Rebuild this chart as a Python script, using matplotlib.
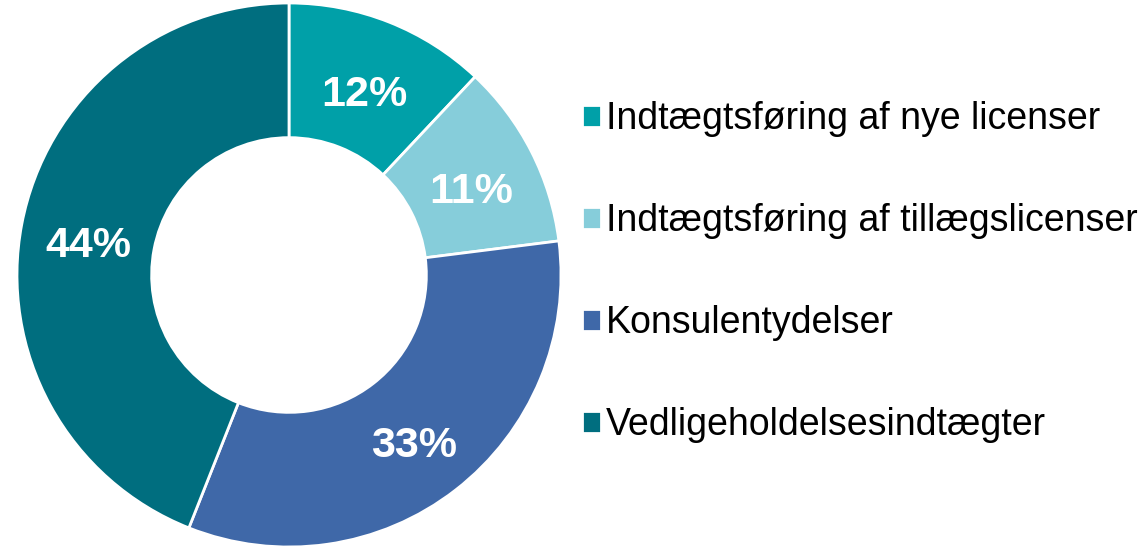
import matplotlib.pyplot as plt

# data
labels = ["Indtægtsføring af nye licenser",
          "Indtægtsføring af tillægslicenser",
          "Konsulentydelser",
          "Vedligeholdelsesindtægter"]
shares = [12, 11, 33, 44]
colors = ["#00A0A8", "#86CDDA", "#3F68A8", "#006E7F"]

plt.rcParams['font.family'] = ['Liberation Sans', 'DejaVu Sans']

fig = plt.figure(figsize=(11.44, 5.48), dpi=100)
# pie axes: centre ~(289,275) px, radius ~272 px
ax = fig.add_axes([17/1144, 1/548, 544/1144, 544/548])

wedges, texts, autotexts = ax.pie(
    shares, colors=colors, startangle=90, counterclock=False,
    radius=1.0, autopct=lambda p: "{:.0f}%".format(p), pctdistance=0.75,
    wedgeprops=dict(width=0.495, edgecolor="white", linewidth=2),
    textprops=dict(color="white", fontsize=31, fontweight="bold"))
# labels sit a little lower in the original
for t in autotexts:
    x, y = t.get_position()
    t.set_position((x, y - 0.035))
ax.set_xlim(-1, 1)
ax.set_ylim(-1, 1)
ax.set_aspect("equal")
ax.axis("off")

fig.legend(wedges, labels, loc="center left", bbox_to_anchor=(582/1144, 0.503),
           frameon=False, fontsize=27, handlelength=0.5, handleheight=0.5,
           handletextpad=0.13, labelspacing=1.76, borderpad=0, borderaxespad=0)

fig.savefig("out.png", dpi=100)
